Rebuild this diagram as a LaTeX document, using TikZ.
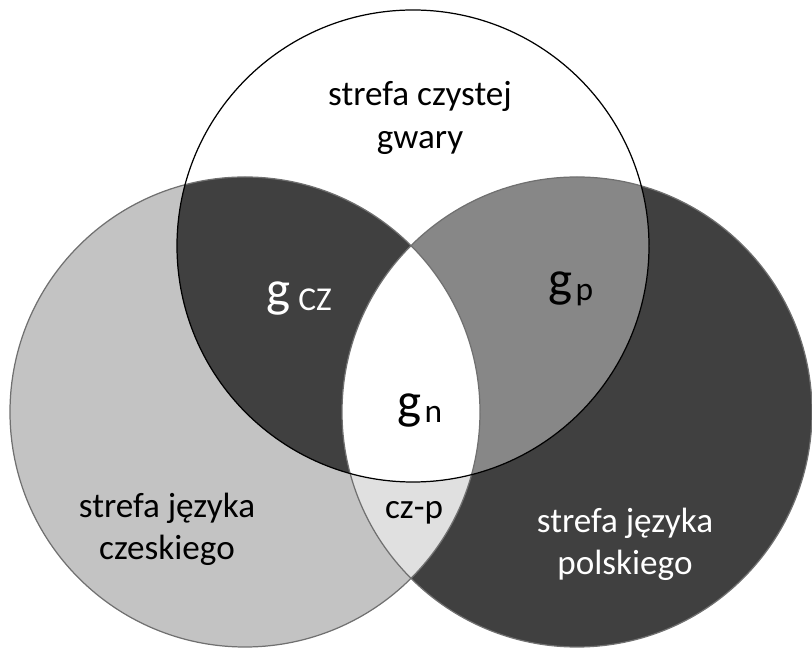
\documentclass[tikz,border=0pt]{standalone}
\usepackage{fontspec}
\setmainfont{Carlito}
\usepackage{tikz}
\usetikzlibrary{positioning}

\definecolor{czeski}{HTML}{C3C3C3}
\definecolor{ciemny}{HTML}{404040}
\definecolor{gpszary}{HTML}{878787}
\definecolor{czp}{HTML}{E0E0E0}
\definecolor{obrys}{HTML}{707070}

\newcommand{\gwara}[1]{{\fontsize{29}{29}\selectfont g}\,\raisebox{-2pt}{\fontsize{19}{19}\selectfont #1}}

\begin{document}
\begin{tikzpicture}[x=0.02cm,y=0.02cm,
            zone text/.style={font=\fontsize{20}{24}\selectfont,align=center,inner sep=0pt},
            g label/.style={inner sep=0pt},
            ring/.style={line width=0.7pt}]

    \useasboundingbox (0,0) rectangle (812,649);

    \coordinate (Gwara) at (413,403);
    \coordinate (Czeski) at (245,237);
    \coordinate (Polski) at (577,237);

    % kola
    \fill[czeski] (Czeski) circle [radius=235];
    \fill[ciemny] (Polski) circle [radius=235];
    \begin{scope}
        \clip (Czeski) circle [radius=235];
        \fill[czp] (Polski) circle [radius=235];
    \end{scope}
    \fill[white] (Gwara) circle [radius=236];
    \begin{scope}
        \clip (Gwara) circle [radius=236];
        \fill[ciemny] (Czeski) circle [radius=235];
        \fill[gpszary] (Polski) circle [radius=235];
        \clip (Czeski) circle [radius=235];
        \fill[white] (Polski) circle [radius=235];
    \end{scope}

    \draw[ring,obrys] (Czeski) circle [radius=235] (Polski) circle [radius=235];
    \draw[ring,black] (Gwara) circle [radius=236];

    % opisy
    \node[zone text] (CzystaGwara) at (420,531) {strefa czystej\\gwary};
    \node[zone text] (JezykCzeski) at (167,120) {strefa języka\\czeskiego};
    \node[zone text,text=white] (JezykPolski) at (625,105) {strefa języka\\polskiego};
    \node[zone text] (CzP) at (414,136) {cz-p};

    \node[g label,text=white] (Gcz) at (299,350) {\gwara{\hspace{3pt}CZ}};
    \node[g label] (Gp) at (571,360) {\gwara{p}};
    \node[g label] (Gn) at (420,238) {\gwara{n}};
\end{tikzpicture}
\end{document}
